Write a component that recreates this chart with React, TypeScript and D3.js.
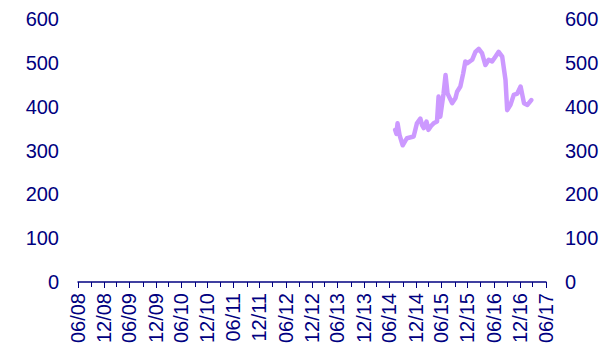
import { useEffect, useRef } from 'react';
import * as d3 from 'd3';

const WIDTH = 606;
const HEIGHT = 348;

const DATES = [
  '2014-07-11', '2014-07-20', '2014-07-28', '2014-08-11', '2014-09-02', '2014-09-20',
  '2014-10-02', '2014-11-18', '2014-12-11', '2015-01-04', '2015-01-16', '2015-01-28',
  '2015-02-16', '2015-03-02', '2015-03-20', '2015-04-07', '2015-05-01', '2015-05-12',
  '2015-05-24', '2015-06-16', '2015-06-30', '2015-07-14', '2015-08-15', '2015-09-07',
  '2015-09-19', '2015-10-12', '2015-11-01', '2015-11-16', '2015-11-28', '2016-01-03',
  '2016-01-26', '2016-02-18', '2016-03-12', '2016-04-05', '2016-04-28', '2016-05-22',
  '2016-06-14', '2016-07-07', '2016-08-01', '2016-08-24', '2016-09-05', '2016-09-28',
  '2016-10-21', '2016-11-15', '2016-12-08', '2017-01-01', '2017-01-25', '2017-02-21'
];

const VALUES = [
  347, 338, 362, 335, 312, 322,
  328, 332, 362, 373, 358, 351,
  366, 347, 356, 362, 366, 423,
  377, 430, 472, 430, 408, 419,
  434, 446, 476, 503, 499, 507,
  525, 532, 522, 495, 507, 503,
  514, 525, 514, 461, 392, 404,
  427, 430, 446, 408, 404, 415
];

const Y_TICKS = [0, 100, 200, 300, 400, 500, 600];

const NAVY = '#000080';
const LINE_COLOR = '#cc99ff';

export default function App() {
  const svgRef = useRef<SVGSVGElement>(null);

  useEffect(() => {
    if (!svgRef.current) return;
    const svg = d3.select(svgRef.current);
    svg.selectAll('*').remove();

    const left = 77.5;
    const right = 545.5;
    const top = 19;
    const bottom = 282;

    const x = d3.scaleTime()
      .domain([new Date(2008, 5, 1), new Date(2017, 5, 1)])
      .range([left, right]);

    const y = d3.scaleLinear().domain([0, 600]).range([bottom, top]);

    const font = 'Liberation Sans, Arial, sans-serif';

    // y labels, both sides, no tick marks
    svg.append('g')
      .selectAll('text')
      .data(Y_TICKS)
      .join('text')
      .attr('x', 59)
      .attr('y', d => y(d))
      .attr('dy', '0.35em')
      .attr('text-anchor', 'end')
      .attr('font-family', font)
      .attr('font-size', 20)
      .attr('fill', NAVY)
      .text(d => d);

    svg.append('g')
      .selectAll('text')
      .data(Y_TICKS)
      .join('text')
      .attr('x', 565)
      .attr('y', d => y(d))
      .attr('dy', '0.35em')
      .attr('text-anchor', 'start')
      .attr('font-family', font)
      .attr('font-size', 20)
      .attr('fill', NAVY)
      .text(d => d);

    // x axis: quarterly ticks, half-yearly labels
    const quarters = d3.timeMonth.range(new Date(2008, 5, 1), new Date(2017, 6, 1), 3);
    const halves = quarters.filter(d => d.getMonth() === 5 || d.getMonth() === 11);

    const xa = svg.append('g');
    xa.append('line')
      .attr('x1', left)
      .attr('x2', right + 1)
      .attr('y1', bottom)
      .attr('y2', bottom)
      .attr('stroke', NAVY)
      .attr('stroke-width', 1.5);

    xa.selectAll('line.tick')
      .data(quarters)
      .join('line')
      .attr('class', 'tick')
      .attr('x1', d => Math.round(x(d)) + 0.5)
      .attr('x2', d => Math.round(x(d)) + 0.5)
      .attr('y1', bottom)
      .attr('y2', d => (halves.includes(d) ? bottom + 6 : bottom + 5))
      .attr('stroke', NAVY)
      .attr('stroke-width', 1);

    const fmt = d3.timeFormat('%m/%y');
    xa.selectAll('text')
      .data(halves)
      .join('text')
      .attr('transform', d => `translate(${x(d)},${bottom + 11}) rotate(-90)`)
      .attr('dy', '0.35em')
      .attr('text-anchor', 'end')
      .attr('font-family', font)
      .attr('font-size', 20)
      .attr('fill', NAVY)
      .text(d => fmt(d));

    // series
    const parse = d3.timeParse('%Y-%m-%d');
    const points = DATES.map((d, i) => ({ date: parse(d)!, value: VALUES[i] }));
    const line = d3.line<{ date: Date; value: number }>()
      .x(d => x(d.date))
      .y(d => y(d.value));

    svg.append('path')
      .datum(points)
      .attr('d', line)
      .attr('fill', 'none')
      .attr('stroke', LINE_COLOR)
      .attr('stroke-width', 4.5)
      .attr('stroke-linejoin', 'round')
      .attr('stroke-linecap', 'round');
  }, []);

  return (
    <svg
      ref={svgRef}
      width={WIDTH}
      height={HEIGHT}
      style={{ position: 'absolute', left: 0, top: 0, display: 'block', background: '#fff' }}
    />
  );
}
